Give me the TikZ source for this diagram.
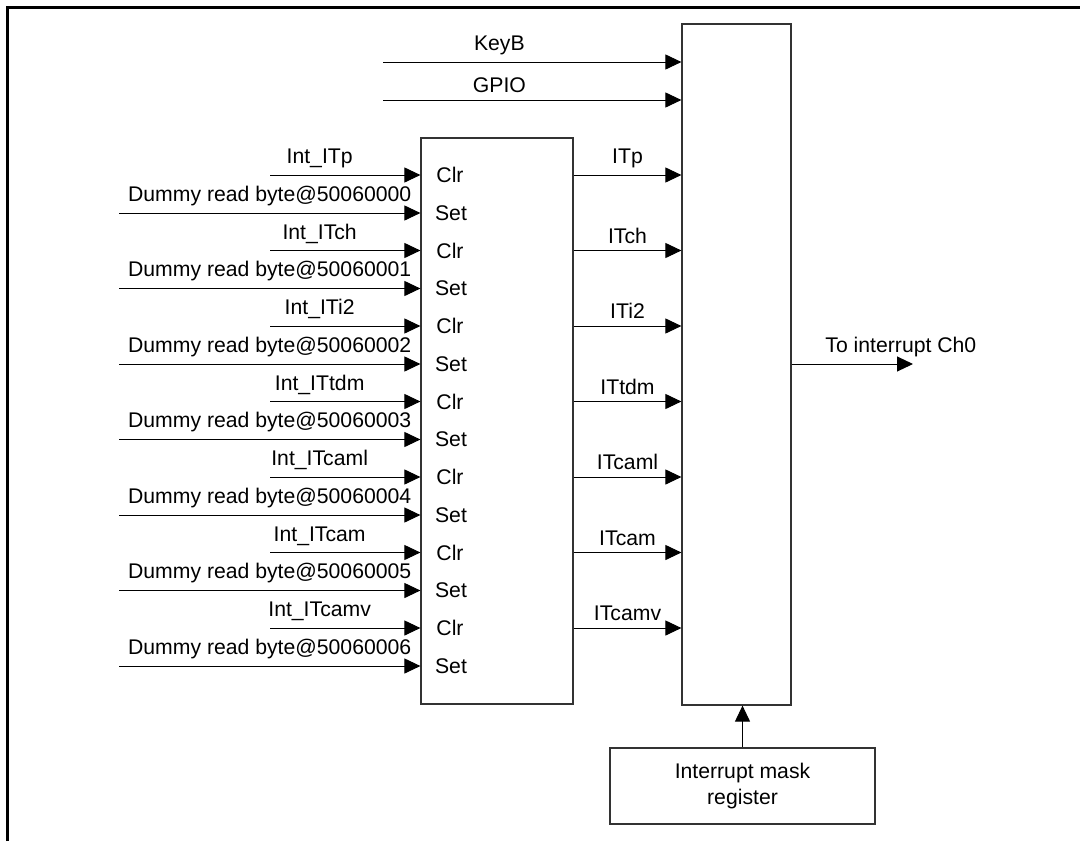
\documentclass[tikz,border=0pt]{standalone}
\usepackage{fontspec}
\setmainfont{Liberation Sans}
\usetikzlibrary{arrows.meta,positioning}
\tikzset{module/.style={rectangle,draw=black!80,line width=0.6pt,inner sep=0pt},
		pre/.style={{Triangle[length=8pt,width=7.5pt]}-,line width=0.5pt},
		post/.style={-{Triangle[length=8pt,width=7.5pt]},line width=0.5pt}}

\begin{document}
\begin{tikzpicture}[x=0.5pt,y=-0.5pt,
		every node/.style={font=\fontsize{10.6}{13}\selectfont},
		port/.style={inner sep=0pt},
		frame/.style={line width=1.5pt}]
		\useasboundingbox (0,0) rectangle (1080,841);
		\draw[frame] (7,841) -- (7,7) -- (1080,7);

		\node[module,minimum width=76pt,minimum height=283pt] (flag-register) at (497,421) {};
		\node[module,minimum width=54.5pt,minimum height=340.5pt] (interrupt-or) at (736.5,364.5) {};
		\node[module,minimum width=132.5pt,minimum height=38pt,align=center] (mask-register) at (742.5,786) {Interrupt mask\\register};
		\draw[post] (mask-register.north) -- (mask-register.north |- interrupt-or.south);

		\coordinate (keyb) at (383,62); \coordinate (gpio) at (383,100);
		\draw[post] (keyb) -- node[above,pos=0.39] {KeyB} (interrupt-or.west |- keyb);
		\draw[post] (gpio) -- node[above,pos=0.39] {GPIO} (interrupt-or.west |- gpio);
		\coordinate (ch0) at (913,364);
		\draw[post] (interrupt-or.east |- ch0) -- node[above,pos=0.22,anchor=south west] {To interrupt Ch0} (ch0);

		\coordinate (int-itp) at (270,175); \coordinate (dummy-itp) at (119,213);
		\node[port] (clr-itp) at (450,175) {Clr}; \node[port] (set-itp) at (451,213) {Set};
		\draw[post] (int-itp) -- node[above,pos=0.33] {Int\_ITp} (flag-register.west |- clr-itp);
		\draw[post] (dummy-itp) -- node[above] {Dummy read byte@50060000} (flag-register.west |- set-itp);
		\draw[post] (flag-register.east |- clr-itp) -- node[above] {ITp} (interrupt-or.west |- clr-itp);

		\coordinate (int-itch) at (270,250.5); \coordinate (dummy-itch) at (119,288.5);
		\node[port] (clr-itch) at (450,250.5) {Clr}; \node[port] (set-itch) at (451,288.5) {Set};
		\draw[post] (int-itch) -- node[above,pos=0.33] {Int\_ITch} (flag-register.west |- clr-itch);
		\draw[post] (dummy-itch) -- node[above] {Dummy read byte@50060001} (flag-register.west |- set-itch);
		\draw[post] (flag-register.east |- clr-itch) -- node[above] {ITch} (interrupt-or.west |- clr-itch);

		\coordinate (int-iti2) at (270,326); \coordinate (dummy-iti2) at (119,364);
		\node[port] (clr-iti2) at (450,326) {Clr}; \node[port] (set-iti2) at (451,364) {Set};
		\draw[post] (int-iti2) -- node[above,pos=0.33] {Int\_ITi2} (flag-register.west |- clr-iti2);
		\draw[post] (dummy-iti2) -- node[above] {Dummy read byte@50060002} (flag-register.west |- set-iti2);
		\draw[post] (flag-register.east |- clr-iti2) -- node[above] {ITi2} (interrupt-or.west |- clr-iti2);

		\coordinate (int-ittdm) at (270,401.5); \coordinate (dummy-ittdm) at (119,439.5);
		\node[port] (clr-ittdm) at (450,401.5) {Clr}; \node[port] (set-ittdm) at (451,439.5) {Set};
		\draw[post] (int-ittdm) -- node[above,pos=0.33] {Int\_ITtdm} (flag-register.west |- clr-ittdm);
		\draw[post] (dummy-ittdm) -- node[above] {Dummy read byte@50060003} (flag-register.west |- set-ittdm);
		\draw[post] (flag-register.east |- clr-ittdm) -- node[above] {ITtdm} (interrupt-or.west |- clr-ittdm);

		\coordinate (int-itcaml) at (270,477); \coordinate (dummy-itcaml) at (119,515);
		\node[port] (clr-itcaml) at (450,477) {Clr}; \node[port] (set-itcaml) at (451,515) {Set};
		\draw[post] (int-itcaml) -- node[above,pos=0.33] {Int\_ITcaml} (flag-register.west |- clr-itcaml);
		\draw[post] (dummy-itcaml) -- node[above] {Dummy read byte@50060004} (flag-register.west |- set-itcaml);
		\draw[post] (flag-register.east |- clr-itcaml) -- node[above] {ITcaml} (interrupt-or.west |- clr-itcaml);

		\coordinate (int-itcam) at (270,552.5); \coordinate (dummy-itcam) at (119,590.5);
		\node[port] (clr-itcam) at (450,552.5) {Clr}; \node[port] (set-itcam) at (451,590.5) {Set};
		\draw[post] (int-itcam) -- node[above,pos=0.33] {Int\_ITcam} (flag-register.west |- clr-itcam);
		\draw[post] (dummy-itcam) -- node[above] {Dummy read byte@50060005} (flag-register.west |- set-itcam);
		\draw[post] (flag-register.east |- clr-itcam) -- node[above] {ITcam} (interrupt-or.west |- clr-itcam);

		\coordinate (int-itcamv) at (270,628); \coordinate (dummy-itcamv) at (119,666);
		\node[port] (clr-itcamv) at (450,628) {Clr}; \node[port] (set-itcamv) at (451,666) {Set};
		\draw[post] (int-itcamv) -- node[above,pos=0.33] {Int\_ITcamv} (flag-register.west |- clr-itcamv);
		\draw[post] (dummy-itcamv) -- node[above] {Dummy read byte@50060006} (flag-register.west |- set-itcamv);
		\draw[post] (flag-register.east |- clr-itcamv) -- node[above] {ITcamv} (interrupt-or.west |- clr-itcamv);
	\end{tikzpicture}
\end{document}
